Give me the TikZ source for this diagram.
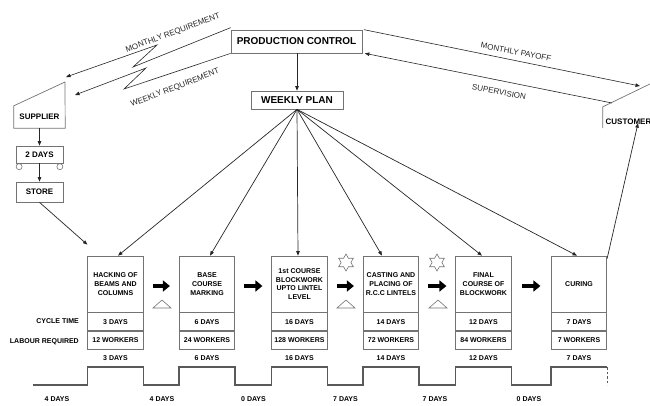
\documentclass[tikz,border=0pt]{standalone}
\usepackage{fontspec}
\setmainfont{Liberation Sans}
\usetikzlibrary{arrows.meta,shapes.geometric,calc}
\begin{document}
\begin{tikzpicture}[x=1pt,y=-1pt,
  font=\bfseries\fontsize{7}{8.8}\selectfont,
  boxline/.style={draw=black!55, line width=0.7pt},
  infobox/.style={boxline, fill=white, inner sep=0pt, font=\bfseries\fontsize{10}{12}\selectfont},
  smallbox/.style={boxline, minimum width=47pt, minimum height=17pt, inner sep=0pt, font=\bfseries\fontsize{8}{10}\selectfont},
  proc/.style={boxline, minimum width=55.5pt, minimum height=56pt, inner sep=0pt, align=center},
  cell/.style={boxline, minimum width=55.5pt, minimum height=18pt, inner sep=0pt, anchor=north},
  tip/.style={-{Triangle[length=4.5pt,width=3.5pt]}},
  flow/.style={line width=0.7pt, draw=black!85, tip},
  push/.style={line width=3.2pt, -{Triangle[length=7pt,width=11pt]}, shorten <=#1, shorten >=#1},
  push/.default=9pt,
  flowlabel/.style={font=\fontsize{8}{10}\selectfont, inner sep=0pt, text=black!85},
  sidelabel/.style={anchor=east, inner sep=0pt},
  daylabel/.style={inner sep=0pt},
  timeline/.style={line width=1.3pt, draw=black!65},
  inventory/.style={draw=black!55, line width=0.6pt},
  kaizen/.style={star, star points=6, star point ratio=1.75, draw=black!55, line width=0.6pt, minimum size=17pt, inner sep=0pt},
]
\clip (0,0) rectangle (650,405);

% --- control and planning ---
\node[infobox, minimum width=131pt, minimum height=23pt] (pc) at (296.5,41.5) {PRODUCTION CONTROL};
\node[infobox, minimum width=92pt, minimum height=18pt] (wp) at (297,100) {WEEKLY PLAN};
\draw[flow] (pc.south -| wp) -- (wp.north);

% --- supplier side ---
\node[minimum width=51pt, minimum height=22pt, inner sep=0pt, font=\bfseries\fontsize{8}{10}\selectfont] (supplier) at (39.5,117) {SUPPLIER};
\coordinate (suptop) at (65,82);
\draw[boxline] (supplier.south west) -- (supplier.north west) -- (suptop) -- (supplier.south east) -- cycle;
\node[smallbox] (truck) at (39.5,154.5) {2 DAYS};
\draw[boxline, line width=0.6pt] ($(truck.south west)+(3.5,3.3)$) circle (3pt);
\draw[boxline, line width=0.6pt] ($(truck.south east)+(-3.5,3.3)$) circle (3pt);
\node[smallbox, minimum height=20pt] (store) at (39.5,192) {STORE};
\draw[flow] (supplier.south) -- (truck.north);
\draw[flow] (truck.south) -- (store.north);

% --- customer side ---
\node[minimum width=51pt, minimum height=21pt, inner sep=0pt] (customer) at (628.5,117.5) {};
\node[inner sep=0pt, font=\bfseries\fontsize{8}{10}\selectfont] (custtext) at (628.5,121.5) {CUSTOMER};
\coordinate (custtop) at (654,82);
\draw[boxline] (customer.south west) -- (customer.north west) -- (custtop) -- (customer.south east);

% --- information flows ---
\coordinate (mr1) at (133,67);
\coordinate (mr2) at (157,45);
\coordinate (mrend) at (66,77);
\draw[flow, line width=0.6pt] ([yshift=2pt]pc.north west) -- (mr1) -- (mr2) -- (mrend);
\coordinate (wr1) at (124,89);
\coordinate (wr2) at (146,68);
\coordinate (wrend) at (75,95);
\draw[flow, line width=0.6pt] (pc.south west) -- (wr1) -- (wr2) -- (wrend);
\node[flowlabel, rotate=20.5] (mrlab) at (173,33) {MONTHLY REQUIREMENT};
\node[flowlabel, rotate=21] (wrlab) at (175,88) {WEEKLY REQUIREMENT};

\coordinate (payend) at (640,86);
\coordinate (supstart) at (612,103);
\draw[flow, line width=0.6pt] ([xshift=1.5pt]pc.north east) -- (payend);
\draw[flow, line width=0.6pt] (supstart) -- ([xshift=2.5pt]pc.south east);
\node[flowlabel, rotate=-11.2] (paylab) at (516,52) {MONTHLY PAYOFF};
\node[flowlabel, rotate=-11.2] (suplab) at (499,92) {SUPERVISION};

% --- process boxes ---
\node[proc] (p1) at (115.5,284) {HACKING OF\\BEAMS AND\\COLUMNS};
\node[proc] (p2) at (207,284) {BASE\\COURSE\\MARKING};
\node[proc] (p3) at (299.5,284) {1st COURSE\\BLOCKWORK\\UPTO LINTEL\\LEVEL};
\node[proc] (p4) at (391,284) {CASTING AND\\PLACING OF\\R.C.C LINTELS};
\node[proc] (p5) at (483.5,284) {FINAL\\COURSE OF\\BLOCKWORK};
\node[proc] (p6) at (579,284) {CURING};

\node[cell] (c1) at (p1.south) {3 DAYS};
\node[cell] (c2) at (p2.south) {6 DAYS};
\node[cell] (c3) at (p3.south) {16 DAYS};
\node[cell] (c4) at (p4.south) {14 DAYS};
\node[cell] (c5) at (p5.south) {12 DAYS};
\node[cell] (c6) at (p6.south) {7 DAYS};

\node[cell] (w1) at (c1.south) {12 WORKERS};
\node[cell] (w2) at (c2.south) {24 WORKERS};
\node[cell] (w3) at (c3.south) {128 WORKERS};
\node[cell] (w4) at (c4.south) {72 WORKERS};
\node[cell] (w5) at (c5.south) {84 WORKERS};
\node[cell] (w6) at (c6.south) {7 WORKERS};

\node[sidelabel] (ctlab) at (79,321.5) {CYCLE TIME};
\node[sidelabel] (lrlab) at (79,341.5) {LABOUR REQUIRED};

% --- material flows into and out of the line ---
\draw[flow] (store.south) -- ([yshift=11pt]p1.north west);
\draw[flow] ([yshift=-3pt]p6.north east) -- ([xshift=9.5pt,yshift=5pt]customer.south);

% --- weekly schedule to each process ---
\draw[flow] (wp.south) -- ([xshift=2.5pt]p1.north);
\draw[flow] (wp.south) -- ([xshift=3pt]p2.north);
\draw[flow] (wp.south) -- ([xshift=-1.5pt]p3.north);
\draw[flow] (wp.south) -- ([xshift=-9pt]p4.north);
\draw[flow] (wp.south) -- ([xshift=-1.5pt]p5.north);
\draw[flow] (wp.south) -- ([xshift=-2pt]p6.north);

% --- push arrows between processes ---
\draw[push] ([yshift=-2pt]p1.east) -- ([yshift=-2pt]p2.west);
\draw[push] ([yshift=-2pt]p2.east) -- ([yshift=-2pt]p3.west);
\draw[push] ([yshift=-2pt]p3.east) -- ([yshift=-2pt]p4.west);
\draw[push] ([yshift=-2pt]p4.east) -- ([yshift=-2pt]p5.west);
\draw[push=10.5pt] ([yshift=-2pt]p5.east) -- ([yshift=-2pt]p6.west);

% --- inventory triangles ---
\foreach \x in {162,346,438}{
  \draw[inventory] (\x-9,308) -- (\x+9,308) -- (\x,300) -- cycle;
}

% --- kaizen bursts ---
\node[kaizen] (k1) at (346,262.5) {};
\node[kaizen] (k2) at (437,262.5) {};

% --- timeline ---
\coordinate (lo) at (0,385);
\coordinate (hi) at (0,367);
\draw[timeline] (33,385)
  -- (p1.west |- lo) -- (p1.west |- hi) -- (p1.east |- hi) -- (p1.east |- lo)
  -- (p2.west |- lo) -- (p2.west |- hi) -- (p2.east |- hi) -- (p2.east |- lo)
  -- (p3.west |- lo) -- (p3.west |- hi) -- (p3.east |- hi) -- (p3.east |- lo)
  -- (p4.west |- lo) -- (p4.west |- hi) -- (p4.east |- hi) -- (p4.east |- lo)
  -- (p5.west |- lo) -- (p5.west |- hi) -- (p5.east |- hi) -- (p5.east |- lo)
  -- (p6.west |- lo) -- (p6.west |- hi) -- (p6.east |- hi);
\draw[timeline, line width=1pt, dash pattern=on 2.5pt off 2pt] (p6.east |- hi) -- (p6.east |- lo);

\coordinate (up) at (0,358.5);
\node[daylabel] (d1) at (p1 |- up) {3 DAYS};
\node[daylabel] (d2) at (p2 |- up) {6 DAYS};
\node[daylabel] (d3) at (p3 |- up) {16 DAYS};
\node[daylabel] (d4) at (p4 |- up) {14 DAYS};
\node[daylabel] (d5) at (p5 |- up) {12 DAYS};
\node[daylabel] (d6) at (p6 |- up) {7 DAYS};

\node[daylabel] (g1) at (57,399) {4 DAYS};
\node[daylabel] (g2) at (162,399) {4 DAYS};
\node[daylabel] (g3) at (253.5,399.5) {0 DAYS};
\node[daylabel] (g4) at (345.5,399) {7 DAYS};
\node[daylabel] (g5) at (435,399) {7 DAYS};
\node[daylabel] (g6) at (529,399) {0 DAYS};
\end{tikzpicture}
\end{document}
